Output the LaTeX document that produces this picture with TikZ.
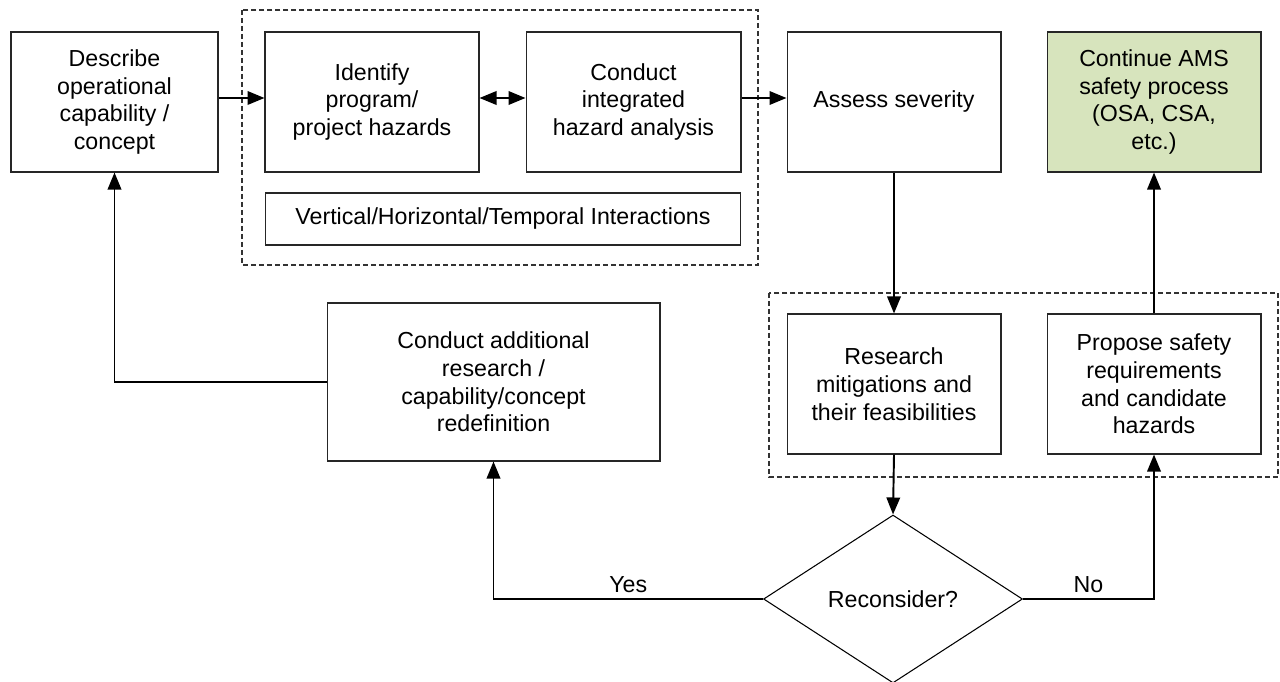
\documentclass[tikz,border=0pt]{standalone}
\usepackage{fontspec}
\setmainfont{Liberation Sans}
\usetikzlibrary{arrows.meta,shapes.geometric}
\definecolor{amsgreen}{RGB}{215,228,189}

\begin{document}
\begin{tikzpicture}[
  x=0.02cm, y=-0.02cm,
  box/.style={draw=black!85, line width=0.6pt, align=center, inner sep=2pt,
    minimum width=4.28cm, minimum height=2.8cm,
    font=\fontsize{13.2}{15.8}\selectfont},
  done/.style={box, fill=amsgreen},
  decision/.style={diamond, draw=black, line width=0.6pt, inner sep=0pt,
    minimum width=5.18cm, minimum height=3.36cm,
    font=\fontsize{13.2}{15.8}\selectfont},
  grp/.style={draw=black!80, line width=0.6pt, dash pattern=on 0.1cm off 0.06cm},
  tip/.style={Triangle[length=0.34cm,width=0.27cm]},
  arr/.style={line width=1.1pt, -{Triangle[length=0.34cm,width=0.27cm]}},
  lbl/.style={font=\fontsize{13.2}{15.8}\selectfont, inner sep=3pt}
]
\useasboundingbox (0,0) rectangle (1280,682);

% === Top row ===
\node[box, minimum width=4.14cm] (desc) at (114.5,102) {Describe\\operational\\capability /\\concept};
\node[box] (ident) at (372,102) {Identify\\program/\\project hazards};
\node[box, minimum width=4.3cm] (integ) at (633.5,102) {Conduct\\integrated\\hazard analysis};
\node[box, minimum width=9.52cm, minimum height=1.04cm] (inter) at (503,219) {Vertical/Horizontal/Temporal Interactions};
\node[box] (sev) at (894,102) {Assess severity};
\node[done] (cont) at (1154,102) {Continue AMS\\safety process\\(OSA, CSA,\\etc.)};

% Hazard analysis group
\draw[grp] (242,10) rectangle (758,265);

% === Lower part ===
\node[box] (mitig) at (894,384) {Research\\mitigations and\\their feasibilities};
\node[box] (prop) at (1154,384) {Propose safety\\requirements\\and candidate\\hazards};
\node[box, minimum width=6.66cm, minimum height=3.16cm] (redef) at (493.5,382) {Conduct additional\\research /\\capability/concept\\redefinition};
\node[decision] (recon) at (893,599) {Reconsider?};

% Mitigation group
\draw[grp] (769,293) rectangle (1278,477);

% === Connectors ===
\draw[arr] ([yshift=0.08cm]desc.east) -- ([yshift=0.08cm]ident.west);
\draw[arr, {Triangle[length=0.34cm,width=0.27cm]}-{Triangle[length=0.34cm,width=0.27cm]}] ([yshift=0.08cm]ident.east) -- ([yshift=0.08cm]integ.west);
\draw[arr] ([yshift=0.08cm]integ.east) -- ([yshift=0.08cm]sev.west);
\draw[arr] (sev.south) -- (mitig.north);
\draw[arr] (mitig.south) -- (recon.north);
\draw[arr] (recon.west) -| node[lbl, pos=0.25, above] {Yes} (redef.south);
\draw[arr] (recon.east) -| node[lbl, pos=0.25, above] {No} (prop.south);
\draw[arr] (prop.north) -- (cont.south);
\draw[arr] (redef.west) -| (desc.south);

\end{tikzpicture}
\end{document}
